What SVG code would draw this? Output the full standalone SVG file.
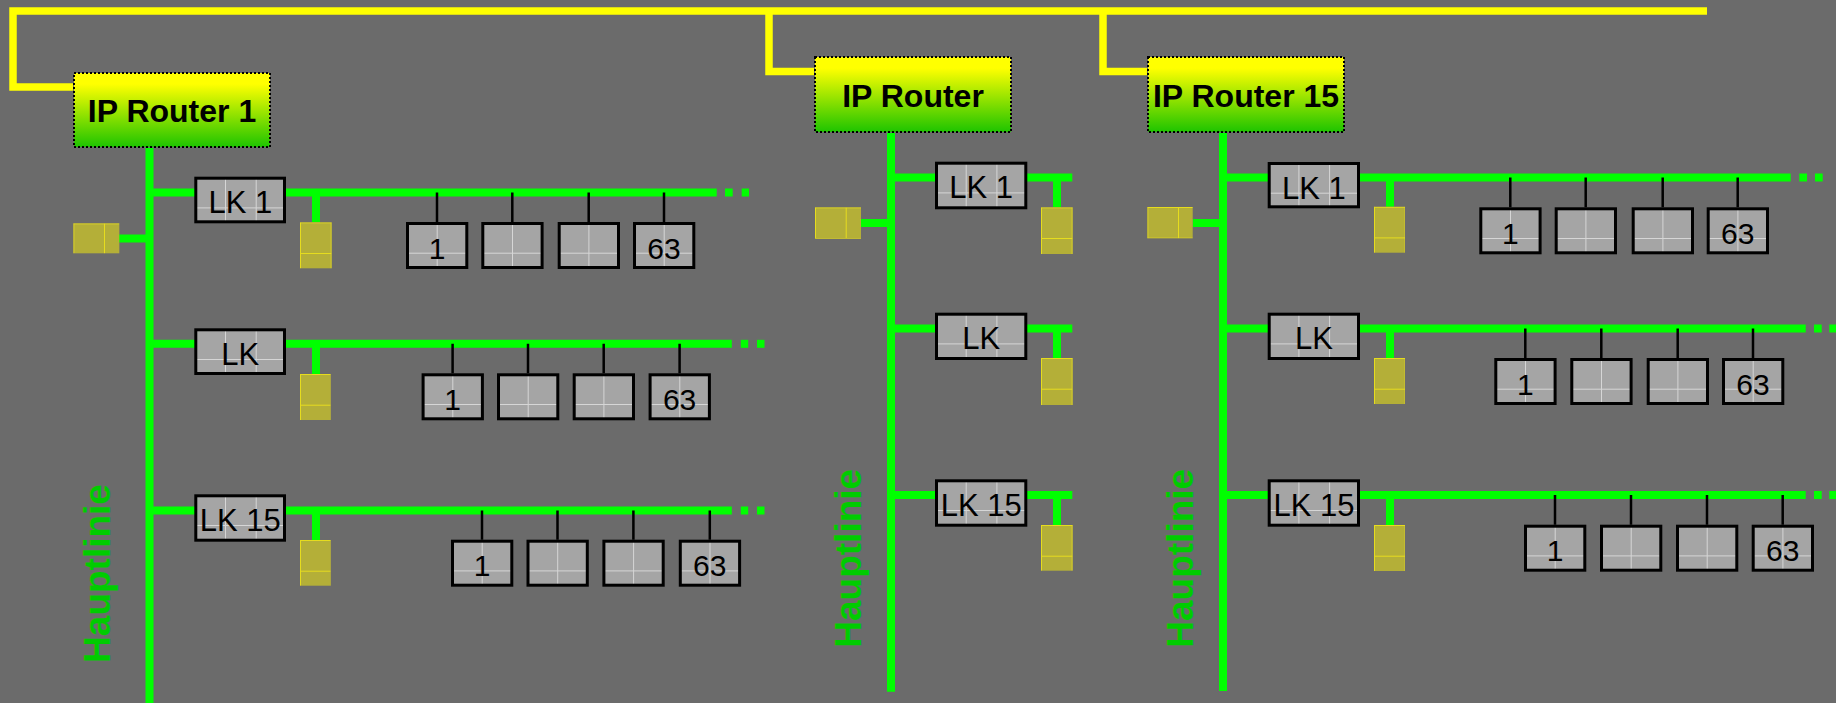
<svg xmlns="http://www.w3.org/2000/svg" width="1836" height="703" viewBox="0 0 1836 703">
<style>
.bus{fill:none;stroke:#ffff00;stroke-width:7.5;stroke-linejoin:miter}
.ln{fill:none;stroke:#00ff00;stroke-width:8}
.dot{fill:#00ff00}
.stub{stroke:#000;stroke-width:2.5}
.router{fill:url(#rg);stroke:#000;stroke-width:2;stroke-dasharray:2 2}
.rt{font-family:"Liberation Sans",Arial,sans-serif;font-weight:bold;font-size:32px;fill:#000;text-anchor:middle}
.box{fill:url(#pg);stroke:#000;stroke-width:3}
.ol{fill:url(#po)}
.lt{font-family:"Liberation Sans",Arial,sans-serif;font-size:31px;fill:#000;text-anchor:middle}
.dt{font-family:"Liberation Sans",Arial,sans-serif;font-size:30px;fill:#000;text-anchor:middle}
.hl{font-family:"Liberation Sans",Arial,sans-serif;font-weight:bold;font-size:37px;fill:#00cc00;text-anchor:middle}
</style>
<defs>
<linearGradient id="rg" x1="0" y1="0" x2="0" y2="1">
<stop offset="0" stop-color="#ffff00"/>
<stop offset="0.15" stop-color="#ffff00"/>
<stop offset="1" stop-color="#1ec400"/>
</linearGradient>
<pattern id="pg" patternUnits="userSpaceOnUse" width="30.7" height="30.7">
<rect width="30.7" height="30.7" fill="#a5a5a5"/>
<path d="M0 0.5H30.7M0.5 0V30.7" stroke="#d6d6d6" stroke-width="1"/>
</pattern>
<pattern id="po" patternUnits="userSpaceOnUse" width="30.7" height="30.7">
<rect width="30.7" height="30.7" fill="#b4af38"/>
<path d="M0 0.5H30.7M0.5 0V30.7" stroke="#e6dc1e" stroke-width="1"/>
</pattern>
</defs>
<rect width="1836" height="703" fill="#6b6b6b"/>

<g id="connectors">
<path class="bus" d="M73 87H13V11H1707"/>
<path class="bus" d="M769 11V71.5H814"/>
<path class="bus" d="M1103 11V71.5H1147"/>

<path class="ln" d="M149.5 148V703"/>
<path class="ln" d="M119 238.5H149.5"/>
<path class="ln" d="M149.5 192.5H716.7M316 192.5V222.3"/>
<path class="ln" d="M149.5 343.8H731.8M316 343.8V374"/>
<path class="ln" d="M149.5 510.5H731.8M316 510.5V540"/>
<rect class="dot" x="725" y="188.5" width="7.7" height="8"/>
<rect class="dot" x="741.7" y="188.5" width="7.3" height="8"/>
<rect class="dot" x="740.8" y="339.8" width="7.4" height="8"/>
<rect class="dot" x="757" y="339.8" width="7.5" height="8"/>
<rect class="dot" x="740.8" y="506.5" width="7.4" height="8"/>
<rect class="dot" x="757" y="506.5" width="7.5" height="8"/>
<path class="stub" d="M437 192.5V222M512.3 192.5V222M588.7 192.5V222M664 192.5V222"/>
<path class="stub" d="M452.6 343.8V373.3M528 343.8V373.3M603.7 343.8V373.3M679.6 343.8V373.3"/>
<path class="stub" d="M482 510.5V539.7M557.5 510.5V539.7M633.4 510.5V539.7M709.8 510.5V539.7"/>

<path class="ln" d="M891 133V691.7"/>
<path class="ln" d="M861 223H891"/>
<path class="ln" d="M891 177.5H1072.3M1057 177.5V207.3"/>
<path class="ln" d="M891 328.5H1072.3M1057 328.5V358"/>
<path class="ln" d="M891 495H1072.3M1057 495V525"/>

<path class="ln" d="M1223 133V691"/>
<path class="ln" d="M1192.7 223H1223"/>
<path class="ln" d="M1223 177.5H1790.7M1390 177.5V206.7"/>
<path class="ln" d="M1223 328.5H1805.7M1390 328.5V358"/>
<path class="ln" d="M1223 495H1805.7M1390 495V525"/>
<rect class="dot" x="1799.3" y="173.5" width="7.7" height="8"/>
<rect class="dot" x="1815" y="173.5" width="7.7" height="8"/>
<rect class="dot" x="1814" y="324.5" width="7.7" height="8"/>
<rect class="dot" x="1829.3" y="324.5" width="7.7" height="8"/>
<rect class="dot" x="1814" y="491" width="7.7" height="8"/>
<rect class="dot" x="1829.3" y="491" width="7.7" height="8"/>
<path class="stub" d="M1510.3 177.5V207.3M1585.7 177.5V207.3M1662.7 177.5V207.3M1737.7 177.5V207.3"/>
<path class="stub" d="M1525.3 328.5V358M1601.3 328.5V358M1677.7 328.5V358M1753 328.5V358"/>
<path class="stub" d="M1555 495V524.7M1631 495V524.7M1707 495V524.7M1782.7 495V524.7"/>
</g>

<g id="router1" transform="translate(73,72)"><rect class="router" x="1" y="1" width="196" height="74"/><text class="rt" x="99" y="49.7">IP Router 1</text></g>
<g id="router2" transform="translate(814,56)"><rect class="router" x="1" y="1" width="196" height="75"/><text class="rt" x="99" y="51.3">IP Router</text></g>
<g id="router3" transform="translate(1147,56)"><rect class="router" x="1" y="1" width="196" height="75"/><text class="rt" x="99" y="51.3">IP Router 15</text></g>

<g id="hl1"><text class="hl" transform="translate(110,573.5) rotate(-90)">Hauptlinie</text></g>
<g id="hl2"><text class="hl" transform="translate(861,558.3) rotate(-90)">Hauptlinie</text></g>
<g id="hl3"><text class="hl" transform="translate(1193,558.3) rotate(-90)">Hauptlinie</text></g>

<g id="r1-ps" transform="translate(73.3,223.3)"><rect class="ol" width="46" height="30"/></g>
<g id="r1-lk1" transform="translate(194.3,176.7)"><rect class="box" x="1.5" y="1.5" width="88.7" height="43.6"/><text class="lt" x="46" y="36.6">LK 1</text></g>
<g id="r1-lk1-ps" transform="translate(300,222.3)"><rect class="ol" width="31.7" height="46"/></g>
<g id="r1-lk" transform="translate(194.3,328.3)"><rect class="box" x="1.5" y="1.5" width="88.7" height="43.7"/><text class="lt" x="46" y="36.6">LK</text></g>
<g id="r1-lk-ps" transform="translate(300,374)"><rect class="ol" width="30.7" height="46"/></g>
<g id="r1-lk15" transform="translate(194.3,494.3)"><rect class="box" x="1.5" y="1.5" width="88.7" height="44.4"/><text class="lt" x="46" y="36.6">LK 15</text></g>
<g id="r1-lk15-ps" transform="translate(300,540)"><rect class="ol" width="30.7" height="45.7"/></g>

<g id="r1-a1" transform="translate(406,222)"><rect class="box" x="1.5" y="1.5" width="59.3" height="44"/><text class="dt" x="31" y="36.5">1</text></g>
<g id="r1-a2" transform="translate(481.3,222)"><rect class="box" x="1.5" y="1.5" width="59.3" height="44"/></g>
<g id="r1-a3" transform="translate(557.7,222)"><rect class="box" x="1.5" y="1.5" width="59.3" height="44"/></g>
<g id="r1-a4" transform="translate(633,222)"><rect class="box" x="1.5" y="1.5" width="59.3" height="44"/><text class="dt" x="31" y="36.5">63</text></g>
<g id="r1-b1" transform="translate(421.6,373.3)"><rect class="box" x="1.5" y="1.5" width="59.3" height="44"/><text class="dt" x="31" y="36.5">1</text></g>
<g id="r1-b2" transform="translate(497,373.3)"><rect class="box" x="1.5" y="1.5" width="59.3" height="44"/></g>
<g id="r1-b3" transform="translate(572.7,373.3)"><rect class="box" x="1.5" y="1.5" width="59.3" height="44"/></g>
<g id="r1-b4" transform="translate(648.6,373.3)"><rect class="box" x="1.5" y="1.5" width="59.3" height="44"/><text class="dt" x="31" y="36.5">63</text></g>
<g id="r1-c1" transform="translate(451,539.7)"><rect class="box" x="1.5" y="1.5" width="59.3" height="44"/><text class="dt" x="31" y="36.5">1</text></g>
<g id="r1-c2" transform="translate(526.5,539.7)"><rect class="box" x="1.5" y="1.5" width="59.3" height="44"/></g>
<g id="r1-c3" transform="translate(602.4,539.7)"><rect class="box" x="1.5" y="1.5" width="59.3" height="44"/></g>
<g id="r1-c4" transform="translate(678.8,539.7)"><rect class="box" x="1.5" y="1.5" width="59.3" height="44"/><text class="dt" x="31" y="36.5">63</text></g>

<g id="r2-ps" transform="translate(815,207.3)"><rect class="ol" width="46" height="31.4"/></g>
<g id="r2-lk1" transform="translate(935,161.7)"><rect class="box" x="1.5" y="1.5" width="89.3" height="44.6"/><text class="lt" x="46.2" y="36.6">LK 1</text></g>
<g id="r2-lk1-ps" transform="translate(1041,207.3)"><rect class="ol" width="31.7" height="46.7"/></g>
<g id="r2-lk" transform="translate(935,312.7)"><rect class="box" x="1.5" y="1.5" width="89.3" height="44.3"/><text class="lt" x="46.2" y="36.6">LK</text></g>
<g id="r2-lk-ps" transform="translate(1041,358)"><rect class="ol" width="31.7" height="47"/></g>
<g id="r2-lk15" transform="translate(935,479.3)"><rect class="box" x="1.5" y="1.5" width="89.3" height="44.4"/><text class="lt" x="46.2" y="36.6">LK 15</text></g>
<g id="r2-lk15-ps" transform="translate(1041,525)"><rect class="ol" width="31.7" height="45.7"/></g>

<g id="r3-ps" transform="translate(1147.3,207)"><rect class="ol" width="45.4" height="31.3"/></g>
<g id="r3-lk1" transform="translate(1267.7,162)"><rect class="box" x="1.5" y="1.5" width="89.3" height="43.3"/><text class="lt" x="46.2" y="36.6">LK 1</text></g>
<g id="r3-lk1-ps" transform="translate(1374,206.7)"><rect class="ol" width="31" height="46"/></g>
<g id="r3-lk" transform="translate(1267.7,312.7)"><rect class="box" x="1.5" y="1.5" width="89.3" height="44.3"/><text class="lt" x="46.2" y="36.6">LK</text></g>
<g id="r3-lk-ps" transform="translate(1374,358)"><rect class="ol" width="31" height="46"/></g>
<g id="r3-lk15" transform="translate(1267.7,479.3)"><rect class="box" x="1.5" y="1.5" width="89.3" height="44.4"/><text class="lt" x="46.2" y="36.6">LK 15</text></g>
<g id="r3-lk15-ps" transform="translate(1374,525)"><rect class="ol" width="31" height="46"/></g>

<g id="r3-a1" transform="translate(1479.3,207.3)"><rect class="box" x="1.5" y="1.5" width="59.3" height="44"/><text class="dt" x="31" y="36.5">1</text></g>
<g id="r3-a2" transform="translate(1554.7,207.3)"><rect class="box" x="1.5" y="1.5" width="59.3" height="44"/></g>
<g id="r3-a3" transform="translate(1631.7,207.3)"><rect class="box" x="1.5" y="1.5" width="59.3" height="44"/></g>
<g id="r3-a4" transform="translate(1706.7,207.3)"><rect class="box" x="1.5" y="1.5" width="59.3" height="44"/><text class="dt" x="31" y="36.5">63</text></g>
<g id="r3-b1" transform="translate(1494.3,358)"><rect class="box" x="1.5" y="1.5" width="59.3" height="44"/><text class="dt" x="31" y="36.5">1</text></g>
<g id="r3-b2" transform="translate(1570.3,358)"><rect class="box" x="1.5" y="1.5" width="59.3" height="44"/></g>
<g id="r3-b3" transform="translate(1646.7,358)"><rect class="box" x="1.5" y="1.5" width="59.3" height="44"/></g>
<g id="r3-b4" transform="translate(1722,358)"><rect class="box" x="1.5" y="1.5" width="59.3" height="44"/><text class="dt" x="31" y="36.5">63</text></g>
<g id="r3-c1" transform="translate(1524,524.7)"><rect class="box" x="1.5" y="1.5" width="59.3" height="44"/><text class="dt" x="31" y="36.5">1</text></g>
<g id="r3-c2" transform="translate(1600,524.7)"><rect class="box" x="1.5" y="1.5" width="59.3" height="44"/></g>
<g id="r3-c3" transform="translate(1676,524.7)"><rect class="box" x="1.5" y="1.5" width="59.3" height="44"/></g>
<g id="r3-c4" transform="translate(1751.7,524.7)"><rect class="box" x="1.5" y="1.5" width="59.3" height="44"/><text class="dt" x="31" y="36.5">63</text></g>
</svg>
